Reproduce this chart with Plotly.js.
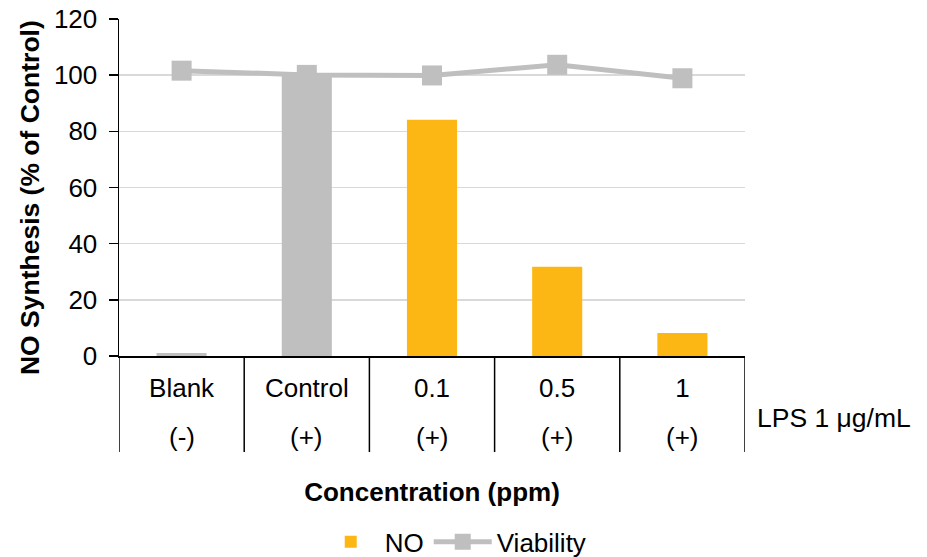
<!DOCTYPE html>
<html>
<head>
<meta charset="utf-8">
<script src="https://cdn.plot.ly/plotly-3.0.1.min.js"></script>
<style>html,body{margin:0;padding:0;background:#fff;}#chart{width:927px;height:557px;}</style>
</head>
<body>
<div id="chart"></div>
<script>
// Data
const categories = ['Blank', 'Control', '0.1', '0.5', '1'];
const lpsLabels = ['(-)', '(+)', '(+)', '(+)', '(+)'];
const noValues = [1.1, 100, 84.1, 31.8, 8.2];
const viabilityValues = [101.6, 100.1, 99.9, 103.7, 98.9];
const barColors = ['#BFBFBF', '#BFBFBF', '#FDB714', '#FDB714', '#FDB714'];

const FONT = 'Liberation Sans, Arial, sans-serif';
const FS = 26;

const traces = [
  {
    type: 'bar', name: 'NO', x: categories, y: noValues,
    marker: {color: barColors}, width: 0.4,
    showlegend: false
  },
  {
    type: 'bar', name: 'NO', x: categories.slice(0, 1), y: [null],
    marker: {color: '#FDB714'}, showlegend: true
  },
  {
    type: 'scatter', mode: 'lines+markers', name: 'Viability',
    x: categories, y: viabilityValues,
    line: {color: '#BFBFBF', width: 5},
    marker: {symbol: 'square', size: 20, color: '#BFBFBF'}
  }
];

const shapes = [];
for (let i = 0; i <= categories.length; i++) {
  shapes.push({type: 'line', xref: 'x', yref: 'paper', x0: i - 0.5, x1: i - 0.5, y0: 0, y1: -0.285,
    line: {color: '#000', width: 1.5}});
}
const annotations = lpsLabels.map((t, i) => ({
  xref: 'x', yref: 'paper', x: i, y: -0.241, text: t, showarrow: false,
  yanchor: 'middle', font: {family: FONT, size: FS, color: '#000'}
}));
annotations.push({xref: 'paper', yref: 'paper', x: 1.016, xanchor: 'left', y: -0.184, yanchor: 'middle',
  text: 'LPS 1 μg/mL', showarrow: false, font: {family: FONT, size: 26.5, color: '#000'}});
annotations.push({xref: 'paper', yref: 'paper', x: -0.142, xanchor: 'center', y: 0.469, yanchor: 'middle',
  textangle: -90, text: '<b>NO Synthesis (% of Control)</b>', showarrow: false,
  font: {family: FONT, size: 26.5, color: '#000'}});

const layout = {
  width: 927, height: 557,
  margin: {l: 119, r: 182, t: 19, b: 201},
  paper_bgcolor: '#fff', plot_bgcolor: '#fff',
  font: {family: FONT, size: FS, color: '#000'},
  barmode: 'overlay',
  xaxis: {
    type: 'category', range: [-0.5, 4.5], automargin: false,
    showline: true, linecolor: '#000', linewidth: 1.5,
    ticks: '', showgrid: false, ticklabelstandoff: 8,
    tickfont: {family: FONT, size: FS, color: '#000'},
    title: {text: '<b>Concentration (ppm)</b>', font: {family: FONT, size: FS, color: '#000'}, standoff: 81}
  },
  yaxis: {
    range: [0, 120], dtick: 20, tick0: 0, automargin: false,
    showline: true, linecolor: '#000', linewidth: 1.5,
    ticks: 'outside', ticklen: 9, tickcolor: '#000', tickwidth: 1.5,
    showgrid: true, gridcolor: '#D9D9D9', gridwidth: 1.5, zeroline: false,
    tickfont: {family: FONT, size: FS, color: '#000'},
    ticklabelstandoff: 6
  },
  legend: {orientation: 'h', xref: 'container', yref: 'container', x: 0.49, xanchor: 'center', y: 0.027, yanchor: 'middle',
    itemwidth: 58, font: {family: FONT, size: FS, color: '#000'}, traceorder: 'normal'},
  shapes: shapes,
  annotations: annotations
};

Plotly.newPlot('chart', traces, layout, {displayModeBar: false, staticPlot: true});
</script>
</body>
</html>
